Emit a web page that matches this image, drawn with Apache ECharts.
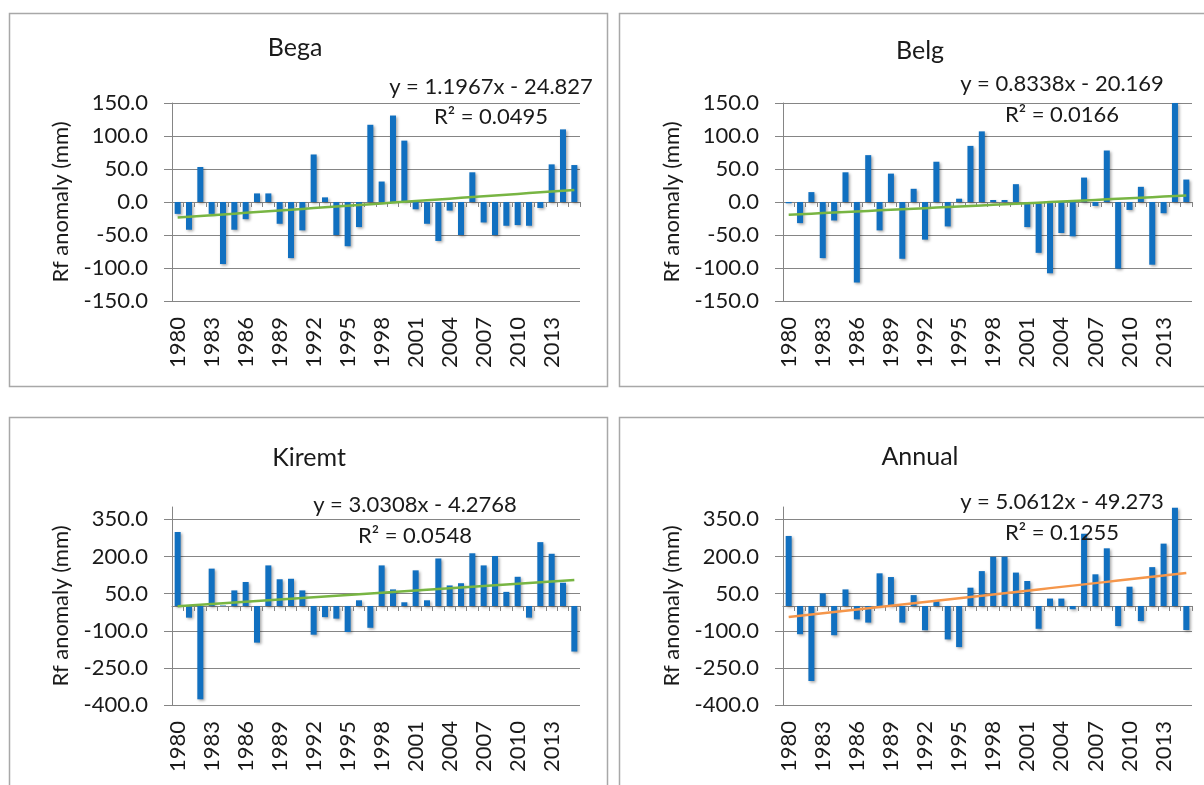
<!DOCTYPE html>
<html>
<head>
<meta charset="utf-8">
<script src="https://cdn.jsdelivr.net/npm/echarts@6/dist/echarts.min.js"></script>
<style>
  html, body { margin: 0; padding: 0; background: #fff; }
  #chart { width: 1204px; height: 785px; }
</style>
</head>
<body>
<div id="chart"></div>
<script>
// ── Data ────────────────────────────────────────────────────────────────
const years = ['1980','1981','1982','1983','1984','1985','1986','1987','1988','1989',
  '1990','1991','1992','1993','1994','1995','1996','1997','1998','1999',
  '2000','2001','2002','2003','2004','2005','2006','2007','2008','2009',
  '2010','2011','2012','2013','2014','2015'];

const bega = [-18, -42, 53, -18, -94, -42, -26, 13, 13, -33,
  -85, -43, 72, 7, -50, -67, -38, 117, 31, 131,
  93, -11, -33, -59, -13, -50, 45, -31, -50, -36,
  -35, -36, -9, 57, 110, 56];

const belg = [-2, -32, 15, -85, -28, 45, -122, 71, -43, 43,
  -86, 20, -57, 61, -37, 5, 85, 107, 3, 3,
  27, -38, -77, -108, -47, -52, 37, -6, 78, -101,
  -12, 23, -95, -17, 150, 34];

const kiremt = [299, -47, -377, 151, 2, 63, 97, -148, 164, 108,
  110, 63, -116, -45, -51, -105, 23, -88, 164, 67,
  15, 144, 23, 192, 83, 92, 213, 164, 202, 57,
  118, -47, 258, 211, 94, -184];

const annual = [283, -114, -303, 51, -118, 67, -54, -67, 132, 117,
  -67, 44, -98, 20, -135, -166, 74, 141, 199, 199,
  135, 101, -92, 30, 30, -13, 292, 128, 233, -81,
  78, -61, 157, 252, 397, -97];

// trendline equations as printed on the chart (x = 1..36)
const panelNames = ['Bega', 'Belg', 'Kiremt', 'Annual'];
const trendSlope = [1.1967, 0.8338, 3.0308, 5.0612];
const trendIntercept = [-24.827, -20.169, -4.2768, -49.273];
const eqText = ['y = 1.1967x - 24.827', 'y = 0.8338x - 20.169', 'y = 3.0308x - 4.2768', 'y = 5.0612x - 49.273'];
const r2Text = ['R² = 0.0495', 'R² = 0.0166', 'R² = 0.0548', 'R² = 0.1255'];

// y axis ranges
const yMin = [-150, -150, -400, -400];
const yMax = [150, 150, 400, 400];
const yStep = [50, 50, 150, 150];

// ── Style ───────────────────────────────────────────────────────────────
const font = 'Lato';
const textColor = '#1a1a1a';
const gridGray = '#858585';
const barBlue = '#1170c0';
const trendColor = ['#78b543', '#78b543', '#78b543', '#f5964a'];

// panel geometry
const grids = [
  { left: 172, top: 103, width: 408, height: 198 },
  { left: 783, top: 103, width: 409, height: 198 },
  { left: 172, top: 507, width: 408, height: 198 },
  { left: 783, top: 507, width: 409, height: 198 },
];
const frames = [
  { x: 9.5, y: 13.5, width: 598, height: 373 },
  { x: 619.5, y: 13.5, width: 600, height: 373 },
  { x: 9.5, y: 417.5, width: 598, height: 380 },
  { x: 619.5, y: 417.5, width: 600, height: 380 },
];
const titlePos = [[295, 48], [920, 51], [309, 458], [920, 457]];
const eqPos = [[491, 87], [1062, 84], [415, 505], [1062, 502]];
const r2Pos = [[491, 117], [1062, 115], [415, 536], [1062, 533]];

const values = [bega, belg, kiremt, annual];

const chart = echarts.init(document.getElementById('chart'), null, { renderer: 'canvas' });

const xAxes = [], yAxes = [], series = [], graphics = [];

for (let k = 0; k < 4; k++) {
  // label axis at the bottom
  xAxes.push({
    gridIndex: k, type: 'category', data: years, position: 'bottom',
    axisLine: { show: false, onZero: false }, axisTick: { show: false },
    axisLabel: { interval: 2, rotate: 90, margin: 16, fontSize: 22, fontFamily: font, color: textColor },
    splitLine: { show: false },
  });
  // axis line crossing at zero, with ticks
  xAxes.push({
    gridIndex: k, type: 'category', data: years, position: 'bottom',
    axisLine: { show: true, onZero: true, onZeroAxisIndex: k, lineStyle: { color: gridGray, width: 1 } },
    axisTick: { show: true, interval: 0, length: 5, lineStyle: { color: gridGray } },
    axisLabel: { show: false },
    splitLine: { show: false },
  });
  yAxes.push({
    gridIndex: k, type: 'value', min: yMin[k], max: yMax[k], interval: yStep[k],
    name: 'Rf anomaly (mm)', nameLocation: 'middle', nameRotate: 90, nameGap: 100,
    nameTextStyle: { fontSize: 22, fontFamily: font, color: textColor },
    axisLine: { show: true, lineStyle: { color: gridGray, width: 1 } },
    axisTick: { show: true, length: 8, lineStyle: { color: gridGray } },
    axisLabel: {
      margin: 24, fontSize: 22, fontFamily: font, color: textColor,
      showMaxLabel: (yMax[k] - yMin[k]) % yStep[k] === 0,
      formatter: (v) => v.toFixed(1),
    },
    splitLine: {
      show: true, lineStyle: { color: gridGray, width: 1 },
      showMaxLine: (yMax[k] - yMin[k]) % yStep[k] === 0,
    },
  });
  series.push({
    type: 'bar', xAxisIndex: 2 * k, yAxisIndex: k,
    data: values[k], barWidth: 6,
    itemStyle: {
      color: barBlue,
      shadowColor: 'rgba(0,0,0,0.35)', shadowBlur: 3, shadowOffsetX: 1.5, shadowOffsetY: 1.5,
    },
    z: 2,
  });
  series.push({
    type: 'line', xAxisIndex: 2 * k, yAxisIndex: k,
    data: years.map((_, i) => trendSlope[k] * (i + 1) + trendIntercept[k]),
    symbol: 'none', lineStyle: { width: 2.5, color: trendColor[k] },
    itemStyle: { color: trendColor[k] },
    z: 3,
  });

  graphics.push({
    type: 'rect', shape: frames[k], silent: true, z: -10,
    style: { fill: 'none', stroke: '#a8a8a8', lineWidth: 1.5 },
  });
  graphics.push({
    type: 'text', x: titlePos[k][0], y: titlePos[k][1], z: 10,
    style: { text: panelNames[k], align: 'center', verticalAlign: 'middle', font: '25px ' + font, fill: textColor },
  });
  graphics.push({
    type: 'text', x: eqPos[k][0], y: eqPos[k][1], z: 10,
    style: { text: eqText[k], align: 'center', verticalAlign: 'middle', font: '22px ' + font, fill: textColor },
  });
  graphics.push({
    type: 'text', x: r2Pos[k][0], y: r2Pos[k][1], z: 10,
    style: { text: r2Text[k], align: 'center', verticalAlign: 'middle', font: '22px ' + font, fill: textColor },
  });
}

chart.setOption({
  animation: false,
  backgroundColor: '#ffffff',
  grid: grids,
  xAxis: xAxes,
  yAxis: yAxes,
  series: series,
  graphic: graphics,
});
</script>
</body>
</html>
